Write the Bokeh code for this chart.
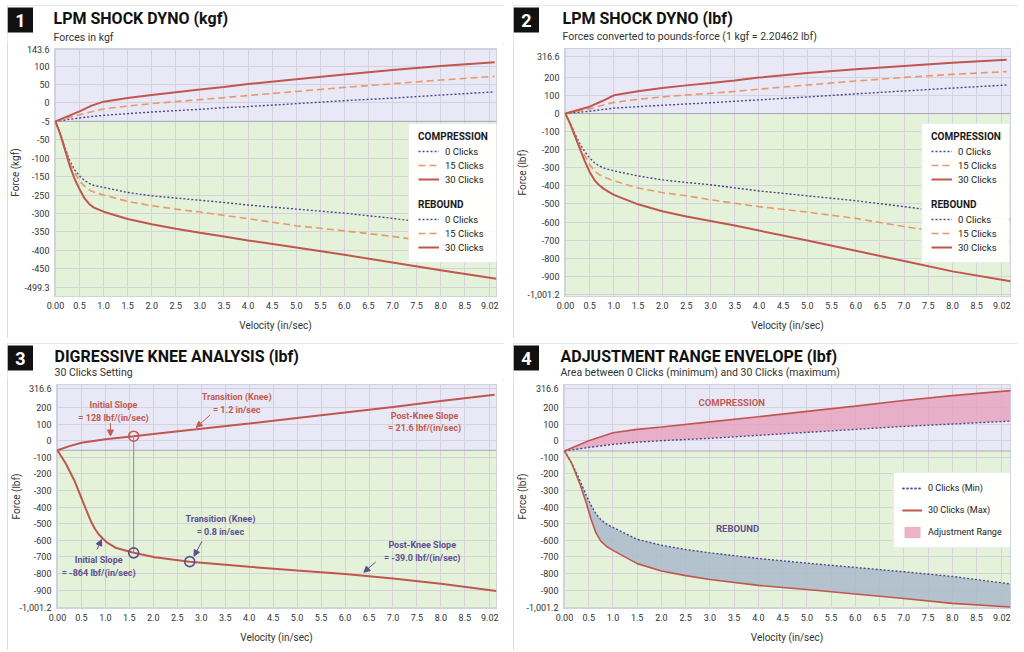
from bokeh.plotting import figure
from bokeh.models import (BoxAnnotation, Span, Legend, LegendItem, FixedTicker,
                          CustomJSTickFormatter, Arrow, NormalHead, ColumnDataSource, Range1d)
from bokeh.layouts import row, column
from bokeh.embed import file_html
from bokeh.resources import INLINE
from bokeh.core.properties import value

FONT = "Roboto"
RED = "#c0574f"
ORANGE = "#e8996a"
PURPLE = "#4b4888"
TXT_RED = "#c25a52"
TXT_PURPLE = "#5d4f8e"
BG_COMP = "#e9e8f7"
BG_REB = "#e5f2da"

# ---------------- axis ticks ----------------
X_TICKS = [0.0, 0.5, 1.0, 1.5, 2.0, 2.5, 3.0, 3.5, 4.0, 4.5, 5.0, 5.5, 6.0, 6.5,
           7.0, 7.5, 8.0, 8.5, 9.02]
X_TICK_LABELS = ["0.00", "0.5", "1.0", "1.5", "2.0", "2.5", "3.0", "3.5", "4.0", "4.5",
                 "5.0", "5.5", "6.0", "6.5", "7.0", "7.5", "8.0", "8.5", "9.02"]
KGF_TICKS = [143.6, 100, 50, 0, -50, -100, -150, -200, -250, -300, -350, -400, -450, -499.3]
KGF_TICK_LABELS = ["143.6", "100", "50", "0", "-5", "-50", "-100", "-150", "-250", "-300",
                   "-350", "-400", "-450", "-499.3"]
LBF_TICKS = [316.6, 200, 100, 0, -100, -200, -300, -400, -500, -600, -700, -800, -900, -1001.2]
LBF_TICK_LABELS = ["316.6", "200", "100", "0", "-100", "-200", "-300", "-400", "-500", "-600",
                   "-700", "-800", "-900", "-1,001.2"]

CLICK_LABELS = ["0 Clicks", "15 Clicks", "30 Clicks"]

# ---------------- panel 1 : kgf ----------------
P1_VC = [0, 0.5, 0.75, 1.0, 1.5, 2.0, 2.5, 3.0, 3.5, 4.0, 5.0, 6.0, 7.0, 8.0, 9.12]
P1_COMP0 = [-50, -40.9, -37, -33.7, -29.2, -24.7, -21, -17.4, -12.9, -10, -2, 6, 13, 21, 30]
P1_COMP15 = [-50, -31.9, -24, -16.5, -8.4, -2.0, 3.4, 8.8, 14.3, 20, 31, 42, 52, 62, 72]
P1_COMP30 = [-50, -22.8, -7.5, 3.4, 13.4, 21.5, 28.8, 36, 43, 51, 64, 77, 89, 100, 110]
P1_VR = [0, 0.1, 0.2, 0.3, 0.4, 0.5, 0.6, 0.7, 0.8, 1.0, 1.5, 2.0, 2.5, 3.0, 3.5, 4.0,
         5.0, 6.0, 7.0, 8.0, 9.16]
P1_REB0 = [-50, -84, -122, -158, -182, -198, -210, -218, -224, -229, -243, -252, -258, -264,
           -270, -277, -288, -299, -313, -330, -350]
P1_REB15 = [-50, -85, -125, -163, -190, -211, -225, -236, -242, -250, -267, -279, -288, -296,
            -305, -314, -333, -347, -362, -380, -400]
P1_REB30 = [-50, -85, -128, -172, -207, -234, -258, -274, -284, -295, -315, -329, -341, -352,
            -362, -373, -392, -412, -433, -454, -477]
P1_BOUNDARY = -50

# ---------------- panel 2 : lbf ----------------
P2_VC = [0, 0.5, 0.75, 1.0, 1.5, 2.0, 2.5, 3.0, 3.5, 4.0, 5.0, 6.0, 7.0, 8.0, 9.12]
P2_COMP0 = [0, 13, 22, 30, 38, 46, 53, 60, 68, 76, 92, 109, 125, 141, 158]
P2_COMP15 = [0, 26, 45, 62, 79, 92, 103, 112, 123, 135, 158, 180, 200, 217, 232]
P2_COMP30 = [0, 38, 68, 101, 124, 141, 156, 169, 183, 199, 224, 245, 263, 281, 298]
P2_VR = [0, 0.1, 0.2, 0.3, 0.4, 0.5, 0.6, 0.7, 0.8, 1.0, 1.5, 2.0, 2.5, 3.0, 3.5, 4.0,
         5.0, 6.0, 7.0, 8.0, 9.2]
P2_REB0 = [0, -56, -115, -168, -210, -246, -272, -290, -302, -317, -345, -367, -381, -394,
           -411, -428, -455, -482, -515, -550, -585]
P2_REB15 = [0, -58, -122, -180, -232, -282, -318, -338, -352, -372, -412, -437, -455, -477,
            -496, -515, -545, -580, -625, -665, -710]
P2_REB30 = [0, -58, -127, -196, -263, -323, -368, -397, -418, -450, -502, -540, -569, -594,
            -619, -647, -702, -759, -816, -873, -928]
P2_BOUNDARY = 0

# ---------------- panel 3 : knee analysis (30 clicks, lbf) ----------------
P3_VC = [0, 0.25, 0.5, 1.0, 1.59, 2.0, 3.0, 4.0, 5.0, 6.0, 7.0, 8.0, 9.12]
P3_COMP30 = [-58, -33, -13, 9, 27, 40, 71, 103, 136, 169, 202, 238, 276]
P3_VR = [0, 0.17, 0.35, 0.52, 0.69, 0.78, 0.86, 0.95, 1.03, 1.21, 1.59, 2.03, 2.76, 4.0, 5.0,
         6.0, 7.0, 8.0, 9.16]
P3_REB30 = [-58, -136, -238, -360, -480, -530, -563, -590, -612, -644, -675, -702, -728, -759,
            -781, -802, -830, -861, -905]
P3_BOUNDARY = -58
KNEE_X = [1.59, 1.59, 2.76]
KNEE_Y = [27, -675, -728]
KNEE_SIDE = ["comp", "reb", "reb"]
ANN_TEXT = ["Initial Slope\n= 128 lbf/(in/sec)", "Transition (Knee)\n= 1.2 in/sec",
            "Post-Knee Slope\n= 21.6 lbf/(in/sec)", "Initial Slope\n= -864 lbf/(in/sec)",
            "Transition (Knee)\n= 0.8 in/sec", "Post-Knee Slope\n= -39.0 lbf/(in/sec)"]
ANN_X = [1.17, 3.74, 7.66, 0.86, 3.40, 7.61]
ANN_Y = [176, 225, 111, -757, -512, -667]
ANN_SIDE = ["comp", "comp", "comp", "reb", "reb", "reb"]
ARR_X0 = [1.105, 3.186, 0.827, 3.014, 6.64]
ARR_Y0 = [105, 155, -654, -606, -730]
ARR_X1 = [1.105, 2.896, 0.918, 2.849, 6.392]
ARR_Y1 = [28, 80, -595, -695, -792]
ARR_SIDE = ["comp", "comp", "reb", "reb", "reb"]

# ---------------- panel 4 : envelope (lbf) ----------------
P4_VC = [0, 0.5, 1.0, 1.5, 2.0, 3.0, 4.0, 5.0, 6.0, 7.0, 8.0, 9.2]
P4_COMP0 = [-62, -41, -22, -9, 0, 14, 32, 50, 68, 86, 100, 118]
P4_COMP30 = [-62, 0, 48, 68, 82, 113, 144, 176, 208, 242, 271, 301]
P4_VR = [0, 0.15, 0.32, 0.45, 0.55, 0.65, 0.75, 0.87, 1.0, 1.5, 2.0, 2.5, 3.0, 4.0, 5.0, 6.0,
         7.0, 8.0, 9.2]
P4_REB0 = [-62, -135, -240, -330, -390, -440, -475, -502, -522, -594, -629, -655, -675, -709,
           -737, -763, -789, -817, -862]
P4_REB30 = [-62, -137, -262, -375, -475, -555, -605, -637, -660, -740, -784, -812, -835, -871,
            -896, -923, -950, -979, -1001]
P4_BOUNDARY = -62
ENV_LABELS = ["COMPRESSION", "REBOUND"]
ENV_LABEL_X = [3.45, 3.57]
ENV_LABEL_Y = [231, -527]
ENV_LEGEND = ["0 Clicks (Min)", "30 Clicks (Max)", "Adjustment Range"]

STYLE = {
    "0": dict(line_color=PURPLE, line_dash="2 2", line_width=1.4),
    "15": dict(line_color=ORANGE, line_dash="7 4", line_width=1.6),
    "30": dict(line_color=RED, line_width=2.0),
}
SIDE_COLOR = {"comp": TXT_RED, "reb": TXT_PURPLE}


def tick_formatter(vals, labels):
    return CustomJSTickFormatter(args=dict(vals=vals, labels=labels), code="""
for (let i = 0; i < vals.length; i++) {
  if (Math.abs(vals[i] - tick) < 1e-6) { return labels[i]; }
}
return "";
""")


def header_fig(width, height, num, title, subtitle, title_x, sub_mid):
    h = figure(width=width, height=height, x_range=Range1d(0, width),
               y_range=Range1d(height, 0), output_backend="svg", toolbar_location=None,
               min_border=0, title=None, x_axis_location=None, y_axis_location=None,
               frame_align=False)
    h.grid.visible = False
    h.outline_line_color = None
    h.background_fill_color = "white"
    h.border_fill_color = "white"
    h.quad(left=[0], right=[25.5], top=[2], bottom=[27], fill_color="#111111", line_color=None)
    h.text(x=[12.8], y=[14.8], text=[num], text_color="white", text_font=value(FONT),
           text_font_style="bold", text_font_size="18px", text_align="center",
           text_baseline="middle")
    h.text(x=[title_x], y=[12.8], text=[title], text_color="#111111", text_font=value(FONT),
           text_font_style="bold", text_font_size="16px", text_baseline="middle")
    h.text(x=[title_x], y=[sub_mid], text=[subtitle], text_color="#333333",
           text_font=value(FONT), text_font_size="10.5px", text_baseline="middle")
    return h


def make_panel(width, height, borders, x_end, y_range, y_ticks, y_labels, y_title,
               boundary, ylab_standoff):
    left, right, top, bottom = borders
    p = figure(width=width, height=height, x_range=Range1d(-0.02, x_end),
               y_range=Range1d(*y_range), output_backend="svg", toolbar_location=None,
               min_border_left=left, min_border_right=right, min_border_top=top,
               min_border_bottom=bottom, title=None, frame_align=False)
    p.background_fill_color = "white"
    p.border_fill_color = "white"
    p.outline_line_color = "#c9c8d8"
    p.add_layout(BoxAnnotation(bottom=boundary, fill_color=BG_COMP, fill_alpha=1,
                               line_color=None, level="image"))
    p.add_layout(BoxAnnotation(top=boundary, fill_color=BG_REB, fill_alpha=1,
                               line_color=None, level="image"))
    p.add_layout(Span(location=boundary, dimension="width", line_color="#a9a8b8",
                      line_width=1, level="underlay"))
    p.xaxis.ticker = FixedTicker(ticks=X_TICKS)
    p.xaxis.formatter = tick_formatter(X_TICKS, X_TICK_LABELS)
    p.yaxis.ticker = FixedTicker(ticks=y_ticks)
    p.yaxis.formatter = tick_formatter(y_ticks, y_labels)
    for ax in (p.xaxis[0], p.yaxis[0]):
        ax.axis_line_color = None
        ax.major_tick_line_color = None
        ax.minor_tick_line_color = None
        ax.major_tick_out = 0
        ax.major_tick_in = 0
        ax.minor_tick_out = 0
        ax.minor_tick_in = 0
        ax.major_label_text_font = FONT
        ax.major_label_text_font_size = "9px"
        ax.major_label_text_color = "#333333"
        ax.axis_label_text_font = FONT
        ax.axis_label_text_font_size = "10px"
        ax.axis_label_text_font_style = "normal"
        ax.axis_label_text_color = "#333333"
    p.xaxis.axis_label = "Velocity (in/sec)"
    p.yaxis.axis_label = y_title
    p.xaxis.major_label_standoff = 5
    p.xaxis.axis_label_standoff = 8
    p.yaxis.major_label_standoff = 5
    p.yaxis.axis_label_standoff = ylab_standoff
    p.grid.grid_line_color = "#d6d2dc"
    p.grid.grid_line_width = 1
    return p, height - top - bottom


def panel(h, p):
    return column(h, p, spacing=0,
                  styles={"outline": "1px solid #d0d0d0", "outline-offset": "-1px"})


def line(p, x, y, key):
    return p.line(x, y, **STYLE[key])


def two_legends(p, fh, comp_r, reb_r, lx, rx):
    p.add_layout(BoxAnnotation(left=lx, right=rx, top=fh - 75, bottom=fh - 214,
                               left_units="screen", right_units="screen", top_units="screen",
                               bottom_units="screen", fill_color="white", fill_alpha=0.97,
                               line_color="#d8d8d8", line_width=1))
    for ttl, rs, bot in (("COMPRESSION", comp_r, 148), ("REBOUND", reb_r, 216)):
        lg = Legend(items=[LegendItem(label=l, renderers=[r]) for l, r in zip(CLICK_LABELS, rs)],
                    title=ttl, location=(lx, fh - bot), margin=0, padding=10, spacing=0,
                    glyph_width=21, glyph_height=14, label_height=14, label_standoff=6,
                    title_standoff=2, background_fill_alpha=0, border_line_alpha=0)
        lg.title_text_font = FONT
        lg.title_text_font_style = "bold"
        lg.title_text_font_size = "10px"
        lg.title_text_color = "#1a1a1a"
        lg.label_text_font = FONT
        lg.label_text_font_size = "9.5px"
        lg.label_text_color = "#222222"
        p.add_layout(lg)


# ================= panel 1 =================
h1 = header_fig(497, 38, "1", "LPM SHOCK DYNO (kgf)", "Forces in kgf", 46, 31.5)
p1, fh1 = make_panel(497, 295, (45, 8, 5, 42), 9.16, (-525, 147.5), KGF_TICKS, KGF_TICK_LABELS,
                     "Force (kgf)", P1_BOUNDARY, 0)
c1 = [line(p1, P1_VC, P1_COMP0, "0"), line(p1, P1_VC, P1_COMP15, "15"),
      line(p1, P1_VC, P1_COMP30, "30")]
r1 = [line(p1, P1_VR, P1_REB0, "0"), line(p1, P1_VR, P1_REB15, "15"),
      line(p1, P1_VR, P1_REB30, "30")]
two_legends(p1, fh1, c1, r1, 354, 443)

# ================= panel 2 =================
h2 = header_fig(505, 38, "2", "LPM SHOCK DYNO (lbf)",
                "Forces converted to pounds-force (1 kgf = 2.20462 lbf)", 49, 31)
p2, fh2 = make_panel(505, 295, (51, 8, 5, 42), 9.2, (-1012, 360), LBF_TICKS, LBF_TICK_LABELS,
                     "Force (lbf)", P2_BOUNDARY, -3)
c2 = [line(p2, P2_VC, P2_COMP0, "0"), line(p2, P2_VC, P2_COMP15, "15"),
      line(p2, P2_VC, P2_COMP30, "30")]
r2 = [line(p2, P2_VR, P2_REB0, "0"), line(p2, P2_VR, P2_REB15, "15"),
      line(p2, P2_VR, P2_REB30, "30")]
two_legends(p2, fh2, c2, r2, 357, 445)

# ================= panel 3 =================
h3 = header_fig(497, 36, "3", "DIGRESSIVE KNEE ANALYSIS (lbf)", "30 Clicks Setting", 47, 29)
p3, fh3 = make_panel(497, 271, (45, 8, 5, 42), 9.16, (-1010, 338), LBF_TICKS, LBF_TICK_LABELS,
                     "Force (lbf)", P3_BOUNDARY, -5)
line(p3, P3_VC, P3_COMP30, "30")
line(p3, P3_VR, P3_REB30, "30")
p3.segment(x0=[KNEE_X[0]], y0=[KNEE_Y[0]], x1=[KNEE_X[1]], y1=[KNEE_Y[1]],
           line_color="#8a8a96", line_width=1)
knee_src = ColumnDataSource(dict(x=KNEE_X, y=KNEE_Y, c=[SIDE_COLOR[s] for s in KNEE_SIDE]))
p3.scatter(x="x", y="y", source=knee_src, marker="circle", size=10, fill_color=None,
           line_color="c", line_width=1.6)
ann_src = ColumnDataSource(dict(x=ANN_X, y=ANN_Y, text=ANN_TEXT,
                                c=[SIDE_COLOR[s] for s in ANN_SIDE]))
p3.text(x="x", y="y", text="text", source=ann_src, text_color="c", text_font=value(FONT),
        text_font_size="9px", text_font_style="bold", text_align="center",
        text_baseline="middle", text_line_height=1.25)
for side in ("comp", "reb"):
    idx = [i for i, s in enumerate(ARR_SIDE) if s == side]
    src = ColumnDataSource(dict(x0=[ARR_X0[i] for i in idx], y0=[ARR_Y0[i] for i in idx],
                                x1=[ARR_X1[i] for i in idx], y1=[ARR_Y1[i] for i in idx]))
    col = SIDE_COLOR[side]
    p3.add_layout(Arrow(end=NormalHead(size=6, line_color=col, fill_color=col), source=src,
                        x_start="x0", y_start="y0", x_end="x1", y_end="y1",
                        line_color=col, line_width=1))

# ================= panel 4 =================
h4 = header_fig(505, 36, "4", "ADJUSTMENT RANGE ENVELOPE (lbf)",
                "Area between 0 Clicks (minimum) and 30 Clicks (maximum)", 47, 29)
p4, fh4 = make_panel(505, 271, (50, 8, 5, 42), 9.2, (-1010, 338), LBF_TICKS, LBF_TICK_LABELS,
                     "Force (lbf)", P4_BOUNDARY, -4)
fill_c = p4.varea(x=P4_VC, y1=P4_COMP0, y2=P4_COMP30, fill_color="#e7a4c0", fill_alpha=0.85)
fill_r = p4.varea(x=P4_VR, y1=P4_REB0, y2=P4_REB30, fill_color="#adbccb", fill_alpha=0.9)
m0c = line(p4, P4_VC, P4_COMP0, "0")
m0r = line(p4, P4_VR, P4_REB0, "0")
m30c = p4.line(P4_VC, P4_COMP30, line_color=RED, line_width=1.6)
m30r = p4.line(P4_VR, P4_REB30, line_color=RED, line_width=1.6)
env_src = ColumnDataSource(dict(x=ENV_LABEL_X, y=ENV_LABEL_Y, text=ENV_LABELS,
                                c=[TXT_RED, TXT_PURPLE]))
p4.text(x="x", y="y", text="text", source=env_src, text_color="c", text_font=value(FONT),
        text_font_size="9.5px", text_font_style="bold", text_align="center",
        text_baseline="middle")
lg4 = Legend(items=[LegendItem(label=ENV_LEGEND[0], renderers=[m0c, m0r]),
                    LegendItem(label=ENV_LEGEND[1], renderers=[m30c, m30r]),
                    LegendItem(label=ENV_LEGEND[2], renderers=[fill_c])],
             location=(330, fh4 - 164), margin=0, padding=8, spacing=8, glyph_width=20,
             glyph_height=14, label_height=14, label_standoff=6,
             background_fill_color="white", background_fill_alpha=0.97,
             border_line_color="#d8d8d8")
lg4.label_text_font = FONT
lg4.label_text_font_size = "9px"
lg4.label_text_color = "#222222"
p4.add_layout(lg4)

layout = column(row(panel(h1, p1), panel(h2, p2), spacing=9),
                row(panel(h3, p3), panel(h4, p4), spacing=9),
                spacing=5, margin=(5, 0, 0, 7))
open("out.html", "w").write(file_html(layout, INLINE, "LPM Shock Dyno"))
